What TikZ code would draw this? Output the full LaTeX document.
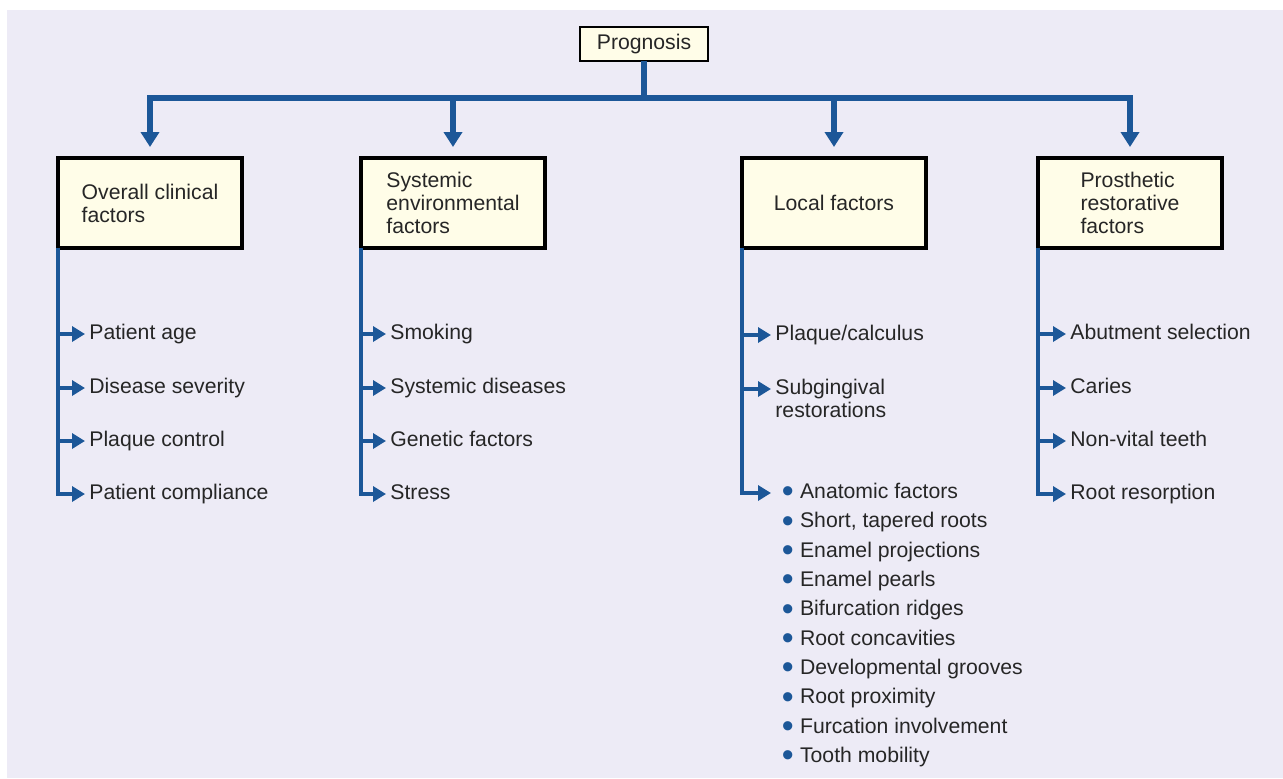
\documentclass[tikz,border=0pt]{standalone}
\usepackage{fontspec}
\setmainfont{Liberation Sans}
\usetikzlibrary{arrows.meta}

\definecolor{linkblue}{RGB}{28,87,152}
\definecolor{panel}{RGB}{237,235,246}
\definecolor{cream}{RGB}{255,253,232}
\definecolor{inkgray}{RGB}{38,38,38}

\newcommand{\dotmark}{\hspace*{3.2pt}\textcolor{linkblue}{\raisebox{-2.2pt}[0pt][0pt]{\scalebox{1.6}{\textbullet}}}\hspace{3.2pt}}

\begin{document}
\begin{tikzpicture}[x=0.5pt,y=-0.5pt,
    every node/.style={font=\fontsize{10.6}{11.5}\selectfont, text=inkgray},
    rootbox/.style={draw=black, line width=1.3pt, fill=cream, inner sep=0pt, outer sep=0pt,
      minimum width=64pt, minimum height=17pt},
    factor/.style={draw=black, line width=2.3pt, fill=cream, inner sep=0pt, outer sep=0pt,
      minimum width=92pt, minimum height=45pt, align=left},
    item/.style={anchor=west, inner sep=2pt, text height=7.7pt, text depth=2.2pt, align=left},
    bus/.style={draw=linkblue, line width=3pt, -{Triangle[width=9pt,length=7.5pt]}, shorten >=5.5pt},
    branch/.style={draw=linkblue, line width=2.2pt, -{Triangle[width=7.5pt,length=6.5pt]}}]
  \useasboundingbox (0,0) rectangle (1283,778);
  \fill[panel] (7,10) rectangle (1283,778);

  \node[rootbox] (prog) at (644,44) {Prognosis};
  \coordinate (bus) at (644,98);

  \node[factor] (clin) at (150,203) {Overall clinical\\factors};
  \node[factor] (sys) at (453,203) {Systemic\\environmental\\factors};
  \node[factor] (local) at (834,203) {Local factors};
  \node[factor] (prost) at (1130,203) {Prosthetic\\restorative\\factors};

  \draw[bus,-,shorten >=0pt] (prog.south) -- (bus);
  \draw[bus] (bus) -| (clin.north);
  \draw[bus] (bus) -| (sys.north);
  \draw[bus] (bus) -| (local.north);
  \draw[bus] (bus) -| (prost.north);

  % overall clinical
  \node[item] (age) at (85,334) {Patient age};
  \node[item] (sever) at (85,388) {Disease severity};
  \node[item] (plaq) at (85,441) {Plaque control};
  \node[item] (compl) at (85,494) {Patient compliance};
  \draw[branch] (clin.south west) |- (age.west);
  \draw[branch] (clin.south west) |- (sever.west);
  \draw[branch] (clin.south west) |- (plaq.west);
  \draw[branch] (clin.south west) |- (compl.west);

  % systemic environmental
  \node[item] (smok) at (386,334) {Smoking};
  \node[item] (disea) at (386,388) {Systemic diseases};
  \node[item] (genet) at (386,441) {Genetic factors};
  \node[item] (stress) at (386,494) {Stress};
  \draw[branch] (sys.south west) |- (smok.west);
  \draw[branch] (sys.south west) |- (disea.west);
  \draw[branch] (sys.south west) |- (genet.west);
  \draw[branch] (sys.south west) |- (stress.west);

  % local, the second label sits on its last line
  \node[item] (calc) at (771,335) {Plaque/calculus};
  \node[item] (subg) at (771,412) {Subgingival\\restorations};
  \node[item] (anat) at (771,493) {\dotmark Anatomic factors};
  \node[item] (roots) at (771,522.3) {\dotmark Short, tapered roots};
  \node[item] (proj) at (771,551.7) {\dotmark Enamel projections};
  \node[item] (pearl) at (771,581) {\dotmark Enamel pearls};
  \node[item] (ridge) at (771,610.3) {\dotmark Bifurcation ridges};
  \node[item] (conc) at (771,639.7) {\dotmark Root concavities};
  \node[item] (groov) at (771,669) {\dotmark Developmental grooves};
  \node[item] (prox) at (771,698.3) {\dotmark Root proximity};
  \node[item] (furc) at (771,727.7) {\dotmark Furcation involvement};
  \node[item] (mobil) at (771,757) {\dotmark Tooth mobility};
  \draw[branch] (local.south west) |- (calc.west);
  \draw[branch] (local.south west) |- ([yshift=11.5pt]subg.west);
  \draw[branch] (local.south west) |- (anat.west);

  % prosthetic restorative
  \node[item] (abut) at (1066,334) {Abutment selection};
  \node[item] (cari) at (1066,388) {Caries};
  \node[item] (vital) at (1066,441) {Non-vital teeth};
  \node[item] (resor) at (1066,494) {Root resorption};
  \draw[branch] (prost.south west) |- (abut.west);
  \draw[branch] (prost.south west) |- (cari.west);
  \draw[branch] (prost.south west) |- (vital.west);
  \draw[branch] (prost.south west) |- (resor.west);
\end{tikzpicture}
\end{document}
